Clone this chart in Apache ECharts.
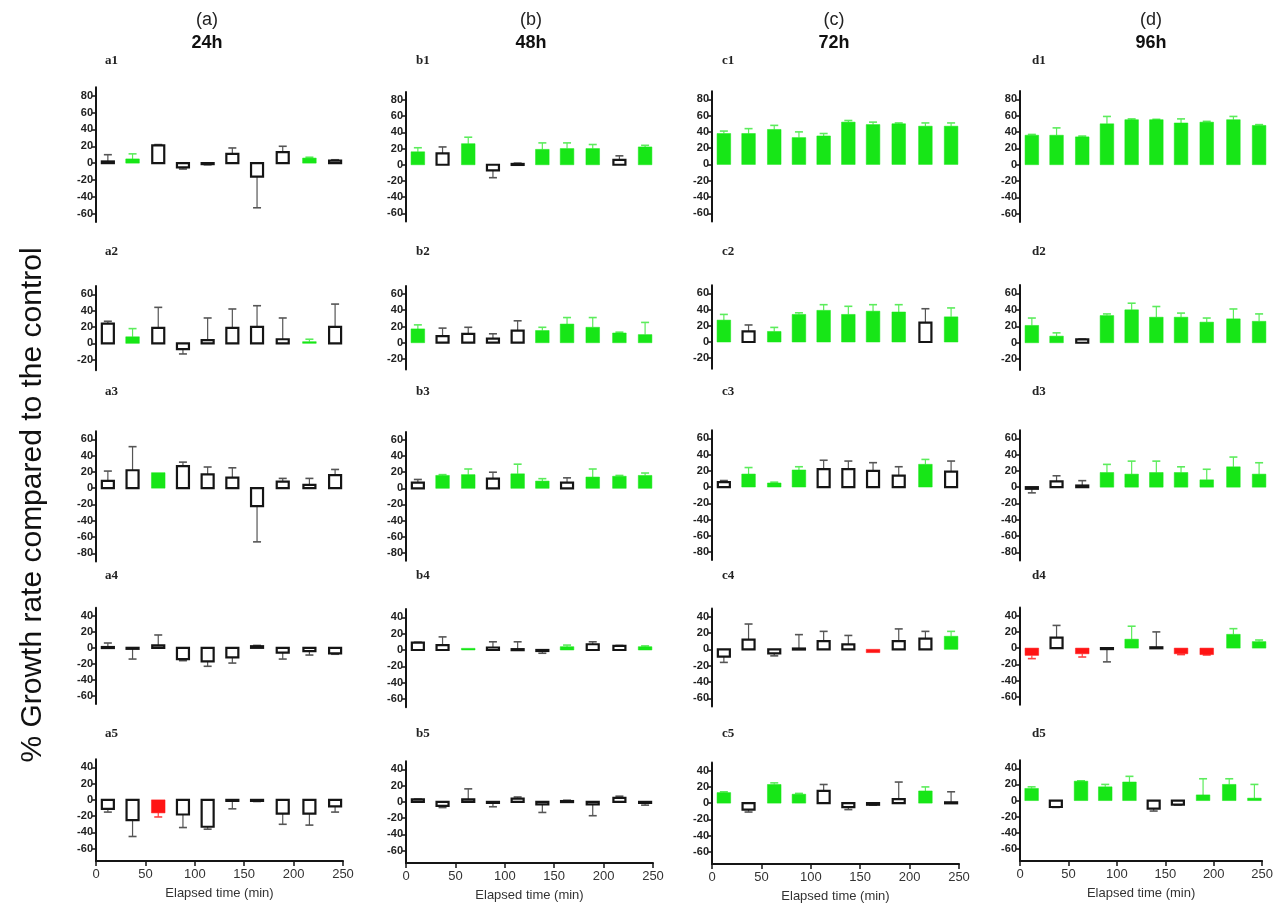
<!DOCTYPE html>
<html>
<head>
<meta charset="utf-8">
<script src="https://cdn.jsdelivr.net/npm/echarts@6/dist/echarts.min.js"></script>
<style>
html,body{margin:0;padding:0;background:#fff;}
#chart{position:absolute;left:0;top:0;width:1276px;height:906px;}
</style>
</head>
<body>
<div id="chart"></div>
<script>
// ---------------- DATA ----------------
const times = [12, 37, 63, 88, 113, 138, 163, 189, 216, 242];
const xTicks = [0, 50, 100, 150, 200, 250];
const columnTitles = ['(a)', '(b)', '(c)', '(d)'];
const columnHours = ['24h', '48h', '72h', '96h'];
const panelNames = [['a1','b1','c1','d1'],['a2','b2','c2','d2'],['a3','b3','c3','d3'],['a4','b4','c4','d4'],['a5','b5','c5','d5']];
const rowTicks = [
  [-60,-40,-20,0,20,40,60,80],
  [-20,0,20,40,60],
  [-80,-60,-40,-20,0,20,40,60],
  [-60,-40,-20,0,20,40],
  [-60,-40,-20,0,20,40]
];
const rowMin = [-70, -33, -90, -70, -75];
const rowMax = [90, 70, 70, 50, 50];

// W = not significant (white), G = increase (green), R = decrease (red)
const a1Val = [2, 5, 21, -5, -1, 11, -16, 13, 6, 3];
const a1Err = [8, 6, 1, 2, 1, 7, 37, 7, 1, 1];
const a1Kind = 'WGWWWWWWGW';
const a2Val = [24, 8, 19, -7, 4, 19, 20, 5, 2, 20];
const a2Err = [3, 10, 25, 6, 27, 23, 26, 26, 3, 28];
const a2Kind = 'WGWWWWWWGW';
const a3Val = [9, 22, 19, 27, 17, 13, -22, 8, 4, 16];
const a3Err = [12, 29, 0, 5, 9, 12, 44, 4, 8, 7];
const a3Kind = 'WWGWWWWWWW';
const a4Val = [1, -1, 3, -14, -17, -12, 2, -6, -4, -7];
const a4Err = [5, 13, 13, 2, 6, 7, 1, 8, 5, 1];
const a4Kind = 'WWWWWWWWWW';
const a5Val = [-11, -25, -16, -18, -33, -1, -1, -17, -17, -8];
const a5Err = [4, 20, 5, 16, 3, 10, 1, 13, 14, 7];
const a5Kind = 'WWRWWWWWWW';

const b1Val = [16, 14, 26, -7, 1, 19, 20, 20, 6, 22];
const b1Err = [5, 8, 8, 9, 1, 8, 7, 5, 5, 2];
const b1Kind = 'GWGWWGGGWG';
const b2Val = [17, 8, 11, 5, 15, 15, 23, 19, 12, 10];
const b2Err = [5, 10, 8, 6, 12, 4, 8, 12, 1, 15];
const b2Kind = 'GWWWWGGGGG';
const b3Val = [7, 16, 17, 12, 18, 9, 7, 14, 15, 16];
const b3Err = [4, 1, 7, 8, 12, 3, 6, 10, 1, 3];
const b3Kind = 'WGGWGGWGGG';
const b4Val = [9, 6, 2, 3, 1, -1, 4, 7, 5, 4];
const b4Err = [0.5, 10, 0, 7, 9, 3, 2, 3, 0.5, 1];
const b4Kind = 'WWGWWWGWWG';
const b5Val = [3, -5, 3, -1, 4, -3, 1, -3, 5, -1];
const b5Err = [0.5, 2, 13, 5, 2, 10, 1, 14, 2, 3];
const b5Kind = 'WWWWWWWWWW';

const c1Val = [38, 38, 43, 33, 35, 52, 49, 50, 47, 47];
const c1Err = [3, 6, 5, 7, 3, 2, 3, 1, 4, 4];
const c1Kind = 'GGGGGGGGGG';
const c2Val = [27, 13, 13, 34, 39, 34, 38, 37, 24, 31];
const c2Err = [7, 8, 5, 2, 7, 10, 8, 9, 17, 11];
const c2Kind = 'GWGGGGGGWG';
const c3Val = [6, 16, 5, 21, 22, 22, 20, 14, 28, 19];
const c3Err = [2, 8, 1, 4, 11, 10, 10, 11, 6, 13];
const c3Kind = 'WGGGWWWWGW';
const c4Val = [-9, 12, -5, 1, 10, 6, -4, 10, 13, 16];
const c4Err = [7, 19, 3, 17, 12, 11, 0, 15, 9, 6];
const c4Kind = 'WWWWWWRWWG';
const c5Val = [13, -8, 23, 11, 15, -5, -2, 5, 15, 1];
const c5Err = [1, 3, 2, 1, 8, 3, 0.5, 21, 5, 13];
const c5Kind = 'GWGGWWWWGW';

const d1Val = [36, 36, 34, 50, 55, 55, 51, 52, 55, 48];
const d1Err = [1, 9, 1, 9, 1, 0.5, 5, 1, 4, 1];
const d1Kind = 'GGGGGGGGGG';
const d2Val = [21, 8, 4, 33, 40, 31, 31, 25, 29, 26];
const d2Err = [9, 4, 0.5, 2, 8, 13, 5, 5, 12, 9];
const d2Kind = 'GGWGGGGGGG';
const d3Val = [-2, 7, 2, 18, 16, 18, 18, 9, 25, 16];
const d3Err = [5, 7, 6, 10, 16, 14, 7, 13, 12, 14];
const d3Kind = 'WWWGGGGGGG';
const d4Val = [-9, 13, -7, -1, 11, 1, -7, -8, 17, 8];
const d4Err = [4, 15, 4, 16, 16, 19, 1, 0.5, 7, 2];
const d4Kind = 'RWRWGWRRGG';
const d5Val = [15, -8, 24, 17, 23, -10, -5, 7, 20, 3];
const d5Err = [2, 0.5, 0.5, 3, 7, 3, 0.5, 20, 7, 17];
const d5Kind = 'GWGGGWWGGG';

const panels = [
  [[a1Val,a1Err,a1Kind],[b1Val,b1Err,b1Kind],[c1Val,c1Err,c1Kind],[d1Val,d1Err,d1Kind]],
  [[a2Val,a2Err,a2Kind],[b2Val,b2Err,b2Kind],[c2Val,c2Err,c2Kind],[d2Val,d2Err,d2Kind]],
  [[a3Val,a3Err,a3Kind],[b3Val,b3Err,b3Kind],[c3Val,c3Err,c3Kind],[d3Val,d3Err,d3Kind]],
  [[a4Val,a4Err,a4Kind],[b4Val,b4Err,b4Kind],[c4Val,c4Err,c4Kind],[d4Val,d4Err,d4Kind]],
  [[a5Val,a5Err,a5Kind],[b5Val,b5Err,b5Kind],[c5Val,c5Err,c5Kind],[d5Val,d5Err,d5Kind]]
];

// ---------------- LAYOUT / STYLE ----------------
const colLeft = [96, 406, 712, 1020];
const plotW = 247;
const axisTop = [[87.3,91.9,91.2,91.1],[286.1,285.9,285.2,285.1],[431.2,432,430.2,430.2],[607.7,609.1,608.5,607.6],[759.2,761.2,762.6,760.2]];
const axisBot = [[222.1,221.4,221.4,221.9],[370.3,369.5,368.8,369.9],[561.4,560.7,560.1,560.4],[704,707.2,706.5,704.8],[860.9,862.9,863.9,861.1]];
const labelY = [62, 253, 393, 577, 735];
const labelDX = [9, 10, 10, 12];
const headerX = [207, 531, 834, 1151];

const GREEN = '#17e617';
const GREEN_ERR = '#5cec5c';
const RED = '#ff1414';
const RED_ERR = '#ff4040';
const FONT = '"Liberation Sans", Arial, Helvetica, sans-serif';

function makeRender(kinds) {
  return function (params, api) {
    const i = params.dataIndex;
    const x = api.value(0), v = api.value(1), e = api.value(2);
    const k = kinds[i];
    const base = api.coord([x, 0]);
    const tip = api.coord([x, v]);
    const sgn = v >= 0 ? 1 : -1;
    const end = api.coord([x, v + sgn * e]);
    const capHalf = 4;
    const children = [];
    const errColor = k === 'G' ? GREEN_ERR : (k === 'R' ? RED_ERR : '#555');
    if (e > 0) {
      children.push({type: 'line', shape: {x1: base[0], y1: tip[1], x2: base[0], y2: end[1]},
        style: {stroke: errColor, lineWidth: 1.2}});
      children.push({type: 'line', shape: {x1: base[0] - capHalf, y1: end[1], x2: base[0] + capHalf, y2: end[1]},
        style: {stroke: errColor, lineWidth: 1.6}});
    }
    const y0 = Math.min(base[1], tip[1]);
    const h = Math.max(Math.abs(tip[1] - base[1]), 1);
    if (k === 'W') {
      children.push({type: 'rect', shape: {x: base[0] - 6, y: y0, width: 12, height: h},
        style: {fill: '#fff', stroke: '#151515', lineWidth: 2.2}});
    } else {
      const f = k === 'G' ? GREEN : RED;
      children.push({type: 'rect', shape: {x: base[0] - 6.8, y: y0, width: 13.6, height: h},
        style: {fill: f, stroke: f, lineWidth: 0.5}});
    }
    return {type: 'group', children: children};
  };
}

const grids = [], xAxes = [], yAxes = [], series = [], graphics = [];
for (let r = 0; r < 5; r++) {
  for (let c = 0; c < 4; c++) {
    const idx = r * 4 + c;
    const [vals, errs, kinds] = panels[r][c];
    grids.push({left: colLeft[c], width: plotW, top: axisTop[r][c], height: axisBot[r][c] - axisTop[r][c], containLabel: false});
    const bottomRow = r === 4;
    xAxes.push({
      gridIndex: idx, type: 'value', min: 0, max: 250, interval: 50,
      show: bottomRow, position: 'bottom',
      axisLine: {show: bottomRow, onZero: false, lineStyle: {color: '#151515', width: 2}},
      axisTick: {show: bottomRow, length: 5, lineStyle: {color: '#151515', width: 1.5}},
      axisLabel: {show: bottomRow, fontSize: 13, color: '#333', margin: 7, fontFamily: FONT},
      splitLine: {show: false},
      name: bottomRow ? 'Elapsed time (min)' : '', nameLocation: 'middle', nameGap: 26,
      nameTextStyle: {fontSize: 13, color: '#333', fontFamily: FONT}
    });
    yAxes.push({
      gridIndex: idx, type: 'value', min: rowMin[r], max: rowMax[r],
      axisLine: {show: true, onZero: false, lineStyle: {color: '#151515', width: 2}},
      axisTick: {show: true, length: 4, customValues: rowTicks[r], lineStyle: {color: '#151515', width: 1.5}},
      axisLabel: {show: true, customValues: rowTicks[r], fontSize: 11, fontWeight: 'bold', color: '#222', margin: 3, fontFamily: FONT},
      splitLine: {show: false}
    });
    series.push({
      type: 'custom', xAxisIndex: idx, yAxisIndex: idx, clip: false, silent: true,
      renderItem: makeRender(kinds),
      encode: {x: 0, y: 1},
      data: times.map((t, i) => [t, vals[i], errs[i]])
    });
    graphics.push({type: 'text', left: colLeft[c] + labelDX[c], top: labelY[r] - 8,
      style: {text: panelNames[r][c], font: 'bold 13px "Liberation Serif", "Times New Roman", serif', fill: '#222'}});
  }
}
for (let c = 0; c < 4; c++) {
  graphics.push({type: 'text', x: headerX[c], y: 20,
    style: {text: columnTitles[c], font: '18px ' + FONT, fill: '#222', textAlign: 'center', textVerticalAlign: 'middle'}});
  graphics.push({type: 'text', x: headerX[c], y: 43,
    style: {text: columnHours[c], font: 'bold 18px ' + FONT, fill: '#111', textAlign: 'center', textVerticalAlign: 'middle'}});
}
graphics.push({type: 'text', x: 33, y: 505, rotation: Math.PI / 2,
  style: {text: '% Growth rate compared to the control', font: '30px ' + FONT, fill: '#111', textAlign: 'center', textVerticalAlign: 'middle'}});

const chart = echarts.init(document.getElementById('chart'), null, {renderer: 'canvas'});
chart.setOption({
  animation: false,
  backgroundColor: '#fff',
  grid: grids, xAxis: xAxes, yAxis: yAxes, series: series,
  graphic: graphics
});
</script>
</body>
</html>
